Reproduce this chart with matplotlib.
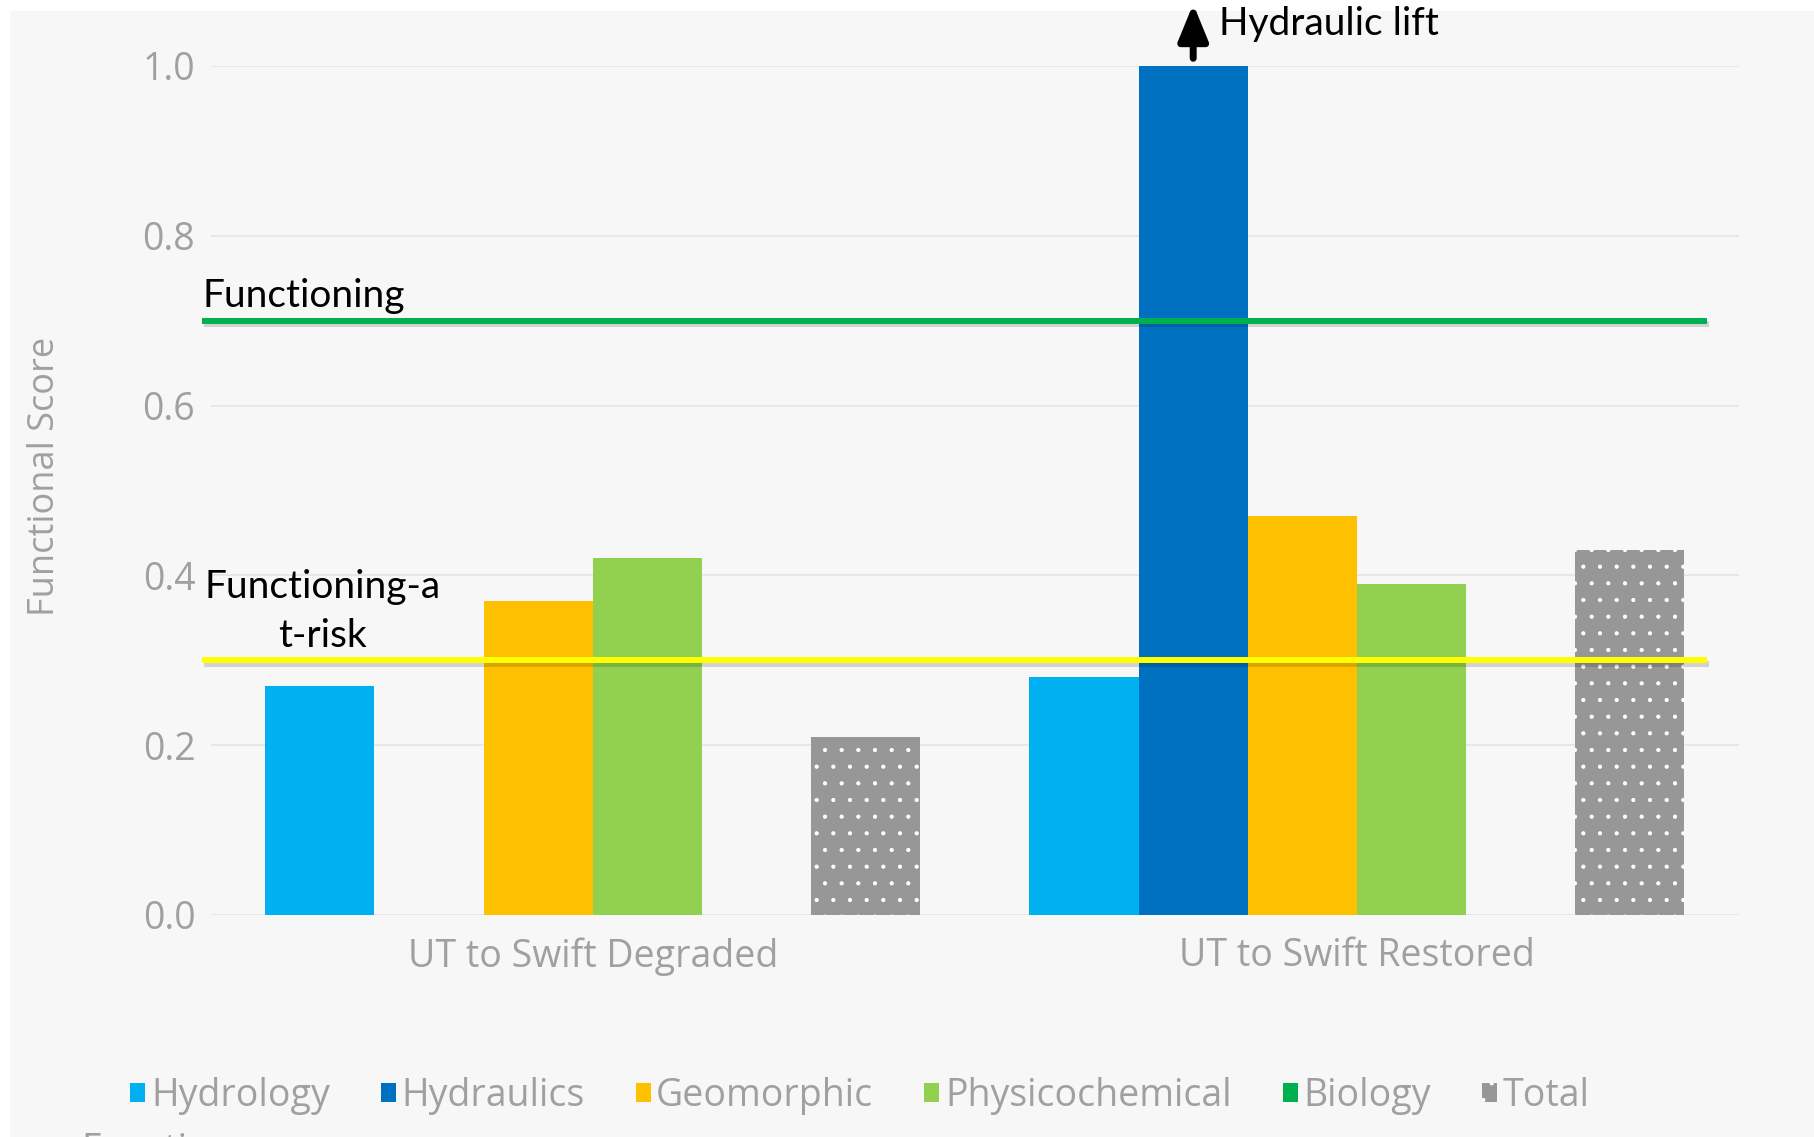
import numpy as np
import matplotlib
matplotlib.use("Agg")
import matplotlib.pyplot as plt
import matplotlib.patheffects as pe
from matplotlib.patches import Rectangle

# scores per stream condition
sites = ["UT to Swift Degraded", "UT to Swift Restored"]
series = ["Hydrology", "Hydraulics", "Geomorphic", "Physicochemical", "Biology", "Total"]
hydrology = [0.27, 0.28]
hydraulics = [0.0, 1.0]
geomorphic = [0.37, 0.47]
physicochemical = [0.42, 0.39]
biology = [0.0, 0.0]
total = [0.21, 0.43]
colors = ["#00b0f0", "#0070c0", "#ffc000", "#92d050", "#00b050", "#979797"]

functioning = 0.7
at_risk = 0.3
yticks = [0.0, 0.2, 0.4, 0.6, 0.8, 1.0]

grey_txt = "#a0a0a0"
plt.rcParams["font.family"] = ["Open Sans", "DejaVu Sans"]
plt.rcParams["hatch.linewidth"] = 0.6

fig = plt.figure(figsize=(18.14, 11.37), dpi=100, facecolor="white")
# light panel with thin white margin on top/left
fig.patches.append(Rectangle((10 / 1814, 0), 1, 1 - 11 / 1137, transform=fig.transFigure,
                             facecolor="#f7f7f7", edgecolor="none", zorder=-10))
ax = fig.add_axes([0.1161, 0.1953, 0.8426, 0.7467])
ax.set_facecolor("none")

x = np.arange(len(sites))
w = 1 / 7
values = [hydrology, hydraulics, geomorphic, physicochemical, biology, total]
bars = []
for i, (name, vals, c) in enumerate(zip(series, values, colors)):
    kw = dict(color=c, linewidth=0)
    if name == "Total":
        kw.update(hatch=".", edgecolor="white")
    b = ax.bar(x + (i - 2.5) * w, vals, w, label=name, zorder=3, **kw)
    bars.append(b)

ax.set_xlim(-0.5, 1.5)
ax.set_ylim(0, 1.0)
ax.set_yticks(yticks)
ax.set_yticklabels([f"{v:.1f}" for v in yticks])
ax.set_xticks(x)
ax.set_xticklabels(sites)
ax.tick_params(axis="y", length=0, pad=11, labelsize=27, labelcolor=grey_txt)
ax.tick_params(axis="x", length=0, pad=16, labelsize=27, labelcolor=grey_txt)
ax.grid(axis="y", color="#e6e6e6", linewidth=1.3, zorder=0)
for s in ax.spines.values():
    s.set_visible(False)
ax.set_ylabel("Functional Score", fontsize=26, color=grey_txt)
ax.yaxis.set_label_coords(-0.0965, 0.516)

# threshold lines
shadow = [pe.SimpleLineShadow(offset=(1.5, -2.5), shadow_color="black", alpha=0.15), pe.Normal()]
x0, x1 = -0.511, 1.458
ax.plot([x0, x1], [functioning, functioning], color="#00b050", lw=4.3,
        solid_capstyle="butt", clip_on=False, zorder=5, path_effects=shadow)
ax.plot([x0, x1], [at_risk, at_risk], color="#ffff00", lw=4.3,
        solid_capstyle="butt", clip_on=False, zorder=5, path_effects=shadow)

ax.text(x0, functioning + 0.016, "Functioning", family="Lato", fontsize=28,
        color="black", ha="left", va="baseline", zorder=6)
ax.text(-0.353, at_risk + 0.016, "Functioning-a\nt-risk", family="Lato", fontsize=28,
        color="black", ha="center", va="baseline", multialignment="center",
        linespacing=1.45, zorder=6)

# arrow above the restored hydraulics bar
xa = x[1] + (1 - 2.5) * w
ax.annotate("", xy=(xa, 1.073), xytext=(xa, 1.009),
            arrowprops=dict(arrowstyle="-|>,head_length=1.1,head_width=0.45",
                            lw=5, color="black", shrinkA=0, shrinkB=0,
                            mutation_scale=20),
            annotation_clip=False)
ax.text(xa + 0.034, 1.0365, "Hydraulic lift", family="Lato", fontsize=28,
        color="black", ha="left", va="baseline", clip_on=False)

fig.legend(handles=bars, labels=series, loc="center", bbox_to_anchor=(0.474, 0.036),
           ncol=6, frameon=False, fontsize=27, labelcolor=grey_txt,
           handlelength=0.4, handleheight=0.4, handletextpad=0.15,
           columnspacing=1.36)

fig.text(81 / 1814, 5 / 1137, "Function", fontsize=27, color=grey_txt,
         ha="left", va="top")

fig.savefig("out.png", dpi=100, facecolor=fig.get_facecolor())
